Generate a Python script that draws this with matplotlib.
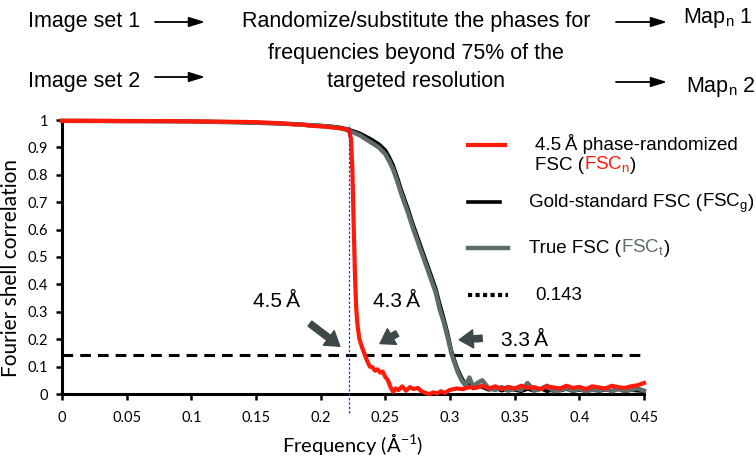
import matplotlib
matplotlib.use("Agg")
import matplotlib.pyplot as plt
from matplotlib.lines import Line2D
from matplotlib.patches import FancyArrowPatch

# FSC_n: phase-randomized curve
red_x = [0, 0.02, 0.05, 0.08, 0.1, 0.12, 0.14, 0.15, 0.16, 0.17, 0.175, 0.18, 0.185, 0.19,
         0.195, 0.2, 0.205, 0.21, 0.215, 0.22, 0.222, 0.2235, 0.2245, 0.2255, 0.2265, 0.2275,
         0.2285, 0.23, 0.232, 0.234, 0.236, 0.238, 0.240, 0.242, 0.244, 0.246, 0.248, 0.250,
         0.252, 0.254, 0.256, 0.258, 0.26, 0.263, 0.266, 0.269, 0.272, 0.275, 0.278, 0.281,
         0.284, 0.287, 0.29, 0.293, 0.296, 0.3, 0.305, 0.31, 0.315, 0.32, 0.325, 0.33, 0.335,
         0.34, 0.345, 0.35, 0.355, 0.36, 0.365, 0.37, 0.375, 0.38, 0.385, 0.39, 0.395, 0.4,
         0.405, 0.41, 0.415, 0.42, 0.425, 0.43, 0.435, 0.44, 0.445, 0.45]
red_y = [0.997, 0.997, 0.996, 0.996, 0.995, 0.994, 0.993, 0.992, 0.99, 0.988, 0.986, 0.983,
         0.984, 0.98, 0.978, 0.977, 0.975, 0.972, 0.97, 0.966, 0.96, 0.93, 0.82, 0.62, 0.44,
         0.31, 0.25, 0.2, 0.17, 0.145, 0.12, 0.1, 0.098, 0.085, 0.09, 0.078, 0.082, 0.062,
         0.05, 0.025, 0.008, 0.02, 0.014, 0.028, 0.012, 0.025, 0.018, 0.022, 0.01, 0.004,
         0.0, 0.006, 0.002, 0.01, 0.004, 0.015, 0.02, 0.018, 0.025, 0.022, 0.03, 0.02, 0.028,
         0.018, 0.026, 0.02, 0.03, 0.022, 0.025, 0.018, 0.028, 0.024, 0.02, 0.03, 0.022, 0.026,
         0.018, 0.028, 0.024, 0.02, 0.03, 0.025, 0.022, 0.028, 0.032, 0.04]

# FSC_g and FSC_t
fsc_x = [0, 0.05, 0.1, 0.15, 0.18, 0.2, 0.21, 0.215, 0.22, 0.225, 0.23, 0.235, 0.24, 0.245,
         0.25, 0.253, 0.256, 0.259, 0.262, 0.265, 0.268, 0.271, 0.274, 0.277, 0.280, 0.283,
         0.286, 0.289, 0.292, 0.295, 0.298, 0.301, 0.303, 0.306, 0.309, 0.312, 0.315, 0.318,
         0.321, 0.325, 0.33, 0.335, 0.34, 0.345, 0.35, 0.355, 0.36, 0.365, 0.37, 0.375, 0.38,
         0.385, 0.39, 0.395, 0.4, 0.405, 0.41, 0.415, 0.42, 0.425, 0.43, 0.435, 0.44, 0.445, 0.45]
gold_y = [0.997, 0.996, 0.995, 0.99, 0.985, 0.98, 0.976, 0.973, 0.968, 0.96, 0.952, 0.94,
          0.927, 0.912, 0.89, 0.865, 0.835, 0.795, 0.75, 0.71, 0.67, 0.625, 0.585, 0.545,
          0.505, 0.465, 0.425, 0.385, 0.33, 0.28, 0.225, 0.16, 0.13, 0.09, 0.06, 0.035,
          0.04, 0.02, 0.03, 0.025, 0.015, 0.022, 0.012, 0.02, 0.015, 0.01, 0.018, 0.012,
          0.02, 0.01, 0.016, 0.012, 0.018, 0.01, 0.015, 0.012, 0.02, 0.01, 0.016, 0.012,
          0.018, 0.01, 0.014, 0.012, 0.01]
true_y = [0.997, 0.996, 0.995, 0.99, 0.985, 0.978, 0.974, 0.97, 0.964, 0.955, 0.945, 0.93,
          0.915, 0.9, 0.875, 0.85, 0.82, 0.78, 0.735, 0.695, 0.655, 0.61, 0.57, 0.53, 0.49,
          0.45, 0.41, 0.37, 0.31, 0.265, 0.21, 0.15, 0.12, 0.08, 0.05, 0.03, 0.06, 0.025,
          0.04, 0.05, 0.02, 0.015, 0.025, 0.012, 0.02, 0.015, 0.04, 0.012, 0.018, 0.03,
          0.01, 0.015, 0.02, 0.012, 0.018, 0.01, 0.015, 0.012, 0.02, 0.01, 0.018, 0.012,
          0.015, 0.02, 0.012]

threshold = 0.143
cutoff = 0.222
xticks = [0, 0.05, 0.1, 0.15, 0.2, 0.25, 0.3, 0.35, 0.4, 0.45]
yticks = [0, 0.1, 0.2, 0.3, 0.4, 0.5, 0.6, 0.7, 0.8, 0.9, 1]

W, H = 756, 458
fig = plt.figure(figsize=(W / 100, H / 100), dpi=100)
ax = fig.add_axes([62 / W, 1 - 394 / H, 582 / W, 274 / H])

RED = "#ff1a0a"
GRAY = "#5f6b6b"
ARROW = "#3d4848"
SANS = ["Liberation Sans", "DejaVu Sans"]
TICKF = ["Lato", "DejaVu Sans"]

ax.plot(fsc_x, gold_y, color="black", lw=2.6, clip_on=False, zorder=3)
ax.plot(fsc_x, true_y, color=GRAY, lw=3.2, clip_on=False, zorder=4)
ax.plot(red_x, red_y, color=RED, lw=3.0, clip_on=False, zorder=5)
ax.axhline(threshold, color="black", lw=2.2, ls=(0, (3.5, 2.3)), zorder=2)
ax.plot([cutoff, cutoff], [-0.07, 0.985], color="#2030ff", lw=0.9, ls=(0, (2, 1.5)),
        clip_on=False, zorder=6)

ax.set_xlim(0, 0.45)
ax.set_ylim(0, 1)
ax.set_xticks(xticks)
ax.set_xticklabels([f"{t:g}" for t in xticks])
ax.set_yticks(yticks)
ax.set_yticklabels([f"{t:g}" for t in yticks])
for s in ["top", "right"]:
    ax.spines[s].set_visible(False)
for s in ["left", "bottom"]:
    ax.spines[s].set_linewidth(2.2)
ax.tick_params(axis="both", direction="out", length=4, width=1.8, labelsize=10.5)
ax.tick_params(axis="x", pad=8)
ax.tick_params(axis="y", pad=6)
for lab in ax.get_xticklabels() + ax.get_yticklabels():
    lab.set_family(TICKF)
ax.set_xlabel(r"Frequency (Å$^{\mathregular{-1}}$)", family=TICKF, fontsize=14.5, va="top")
ax.xaxis.set_label_coords(0.5, -0.135)
fig.text(11 / W, 1 - 268 / H, "Fourier shell correlation", family=TICKF, fontsize=15,
         rotation=90, ha="center", va="center")

# resolution annotations
ax.text(0.166, 0.336, "4.5\u2009Å", family=SANS, fontsize=15, ha="center", va="center")
ax.text(0.259, 0.336, "4.3\u2009Å", family=SANS, fontsize=15, ha="center", va="center")
ax.text(0.358, 0.197, "3.3\u2009Å", family=SANS, fontsize=15, ha="center", va="center")
astyle = dict(arrowstyle="simple,head_width=1.3,head_length=1.0,tail_width=0.45",
              color=ARROW, mutation_scale=10)
ax.annotate("", xy=(0.2165, 0.168), xytext=(0.190, 0.263), arrowprops=astyle)
ax.annotate("", xy=(0.244, 0.179), xytext=(0.261, 0.226), arrowprops=astyle)
ax.annotate("", xy=(0.305, 0.197), xytext=(0.327, 0.204), arrowprops=astyle)


def fx(px):
    return px / W


def fy(py):
    return 1 - py / H


def pieces(x, y, parts, **kw):
    # place text pieces one after another on one baseline (pixel coords)
    r = fig.canvas.get_renderer()
    for s, c in parts:
        t = fig.text(fx(x), fy(y), s, color=c, va="baseline", **kw)
        x += t.get_window_extent(r).width


# legend
leg = [(145, RED, 3.0, "-", 468, 505), (202, "black", 2.6, "-", 468, 500),
       (248, GRAY, 3.2, "-", 468, 508), (295, "black", 3.0, (0, (1, 0.8)), 468, 508)]
for yy, c, lw, ls, x0, x1 in leg:
    fig.add_artist(Line2D([fx(x0), fx(x1)], [fy(yy), fy(yy)], color=c, lw=lw, ls=ls))
lk = dict(family=SANS, fontsize=13.5)
pieces(535, 150, [("4.5\u2009Å phase-randomized", "black")], **lk)
pieces(535, 170, [("FSC (", "black"), (r"FSC$_\mathregular{n}$", RED), (")", "black")], **lk)
pieces(529, 207, [("Gold-standard FSC (", "black"), (r"FSC$_\mathregular{g}$", "black"),
                  (")", "black")], **lk)
pieces(529, 253, [("True FSC (", "black"), (r"FSC$_\mathregular{t}$", GRAY),
                  (")", "black")], **lk)
pieces(535, 300, [("0.143", "black")], **lk)

# header
hk = dict(family=SANS, fontsize=15.5)
fig.text(fx(84), fy(22), "Image set 1", ha="center", va="center", **hk)
fig.text(fx(84), fy(82), "Image set 2", ha="center", va="center", **hk)
fig.text(fx(416), fy(22), "Randomize/substitute the phases for", ha="center", va="center", **hk)
fig.text(fx(416), fy(53), "frequencies beyond 75% of the", ha="center", va="center", **hk)
fig.text(fx(416), fy(82), "targeted resolution", ha="center", va="center", **hk)
fig.text(fx(683), fy(18), r"Map$_\mathregular{n}$ 1", ha="left", va="center", **hk)
fig.text(fx(686), fy(87), r"Map$_\mathregular{n}$ 2", ha="left", va="center", **hk)
hstyle = dict(arrowstyle="-|>,head_width=0.25,head_length=0.8", color="black", lw=1.3,
              shrinkA=0, shrinkB=0)
for x0, x1, yy in [(155, 205, 22), (155, 205, 77), (616, 667, 22), (616, 667, 82)]:
    fig.add_artist(FancyArrowPatch((fx(x0), fy(yy)), (fx(x1), fy(yy)),
                                   transform=fig.transFigure, mutation_scale=12, **hstyle))

fig.savefig("out.png", dpi=100)
